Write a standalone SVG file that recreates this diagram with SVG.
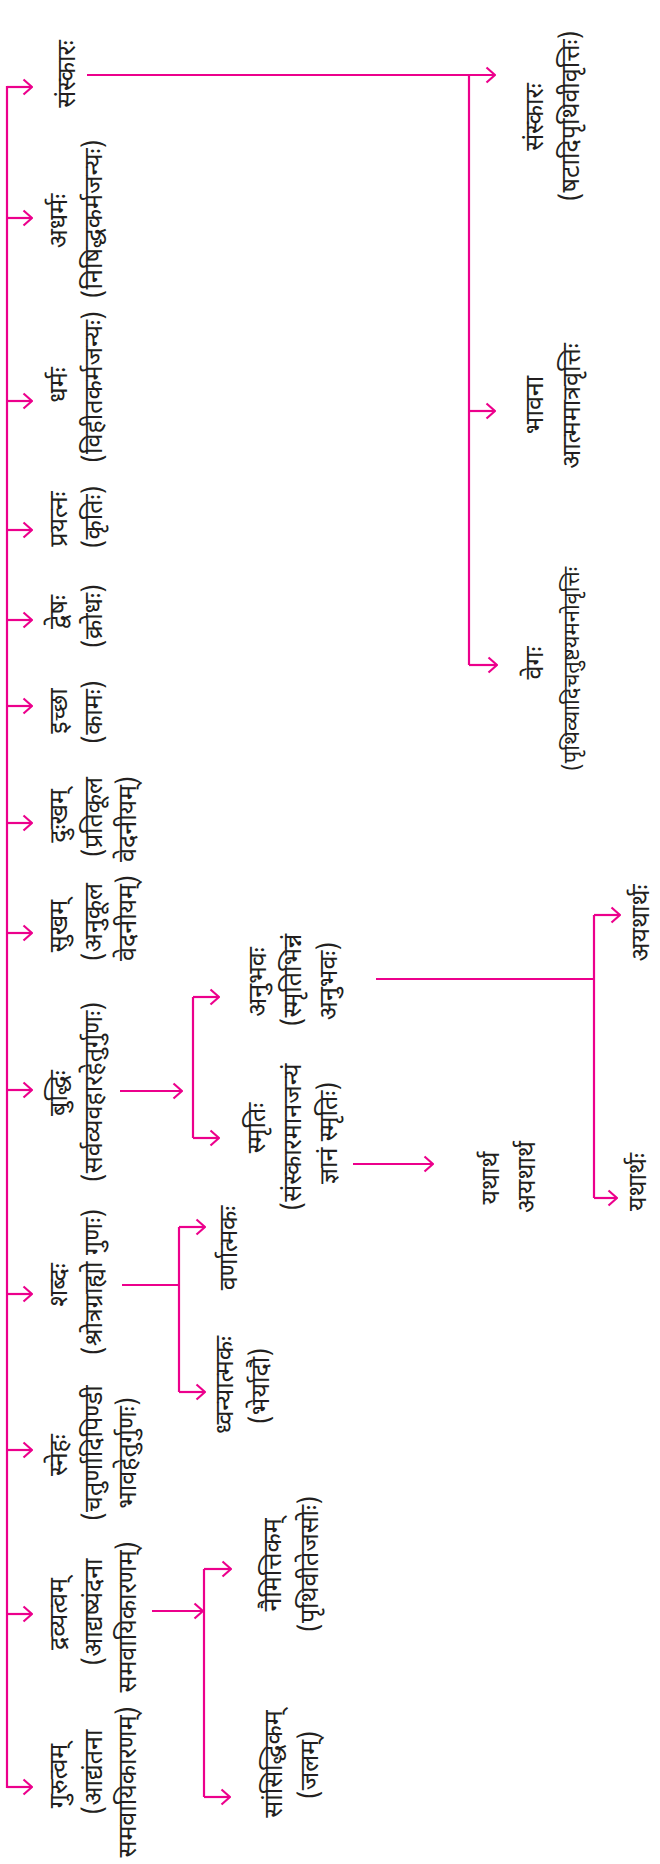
<svg xmlns="http://www.w3.org/2000/svg" width="660" height="1864" viewBox="0 0 660 1864">
<style>
text{font-family:"Noto Sans Devanagari","Noto Sans","Lohit Devanagari",sans-serif;font-size:25px;fill:#231f20;text-anchor:middle}
.c line,.c path{stroke:#ec008c;stroke-width:2.2;fill:none}
</style>
<defs>
<marker id="ah" viewBox="0 0 11 18" markerWidth="11" markerHeight="18" refX="10" refY="9" orient="auto" markerUnits="userSpaceOnUse">
<path d="M1.5,1.5 L10,9 L1.5,16.5" fill="none" stroke="#ec008c" stroke-width="2.2"/>
</marker>
</defs>
<rect width="660" height="1864" fill="#fff"/>
<g class="c" id="connectors">
<line x1="7" y1="86" x2="7" y2="1788"/>
<line x1="7" y1="87" x2="32" y2="87" marker-end="url(#ah)"/>
<line x1="7" y1="218" x2="32" y2="218" marker-end="url(#ah)"/>
<line x1="7" y1="401" x2="32" y2="401" marker-end="url(#ah)"/>
<line x1="7" y1="530" x2="32" y2="530" marker-end="url(#ah)"/>
<line x1="7" y1="620" x2="32" y2="620" marker-end="url(#ah)"/>
<line x1="7" y1="706" x2="32" y2="706" marker-end="url(#ah)"/>
<line x1="7" y1="823" x2="32" y2="823" marker-end="url(#ah)"/>
<line x1="7" y1="933" x2="32" y2="933" marker-end="url(#ah)"/>
<line x1="7" y1="1090" x2="32" y2="1090" marker-end="url(#ah)"/>
<line x1="7" y1="1294" x2="32" y2="1294" marker-end="url(#ah)"/>
<line x1="7" y1="1450" x2="32" y2="1450" marker-end="url(#ah)"/>
<line x1="7" y1="1614" x2="32" y2="1614" marker-end="url(#ah)"/>
<line x1="7" y1="1787" x2="32" y2="1787" marker-end="url(#ah)"/>
<line x1="87" y1="75" x2="495" y2="75" marker-end="url(#ah)"/>
<line x1="469" y1="75" x2="469" y2="665"/>
<line x1="469" y1="411" x2="495" y2="411" marker-end="url(#ah)"/>
<line x1="469" y1="665" x2="497" y2="665" marker-end="url(#ah)"/>
<line x1="120" y1="1091" x2="182" y2="1091" marker-end="url(#ah)"/>
<line x1="193" y1="997" x2="193" y2="1138"/>
<line x1="193" y1="997" x2="219" y2="997" marker-end="url(#ah)"/>
<line x1="193" y1="1138" x2="219" y2="1138" marker-end="url(#ah)"/>
<line x1="122" y1="1285" x2="179" y2="1285"/>
<line x1="179" y1="1227" x2="179" y2="1392"/>
<line x1="179" y1="1227" x2="205" y2="1227" marker-end="url(#ah)"/>
<line x1="179" y1="1392" x2="205" y2="1392" marker-end="url(#ah)"/>
<line x1="152" y1="1611" x2="203" y2="1611" marker-end="url(#ah)"/>
<line x1="204" y1="1569" x2="204" y2="1797"/>
<line x1="204" y1="1569" x2="231" y2="1569" marker-end="url(#ah)"/>
<line x1="204" y1="1797" x2="230" y2="1797" marker-end="url(#ah)"/>
<line x1="353" y1="1164" x2="433" y2="1164" marker-end="url(#ah)"/>
<line x1="376" y1="979" x2="594" y2="979"/>
<line x1="594" y1="915" x2="594" y2="1198"/>
<line x1="594" y1="915" x2="620" y2="915" marker-end="url(#ah)"/>
<line x1="594" y1="1198" x2="617" y2="1198" marker-end="url(#ah)"/>
</g>
<g id="n-samskara"><text transform="translate(75,74) rotate(-90)">संस्कारः</text></g>
<g id="n-adharma"><text transform="translate(67,221) rotate(-90)">अधर्मः</text><text transform="translate(102,219) rotate(-90)">(निषिद्धकर्मजन्यः)</text></g>
<g id="n-dharma"><text transform="translate(67,385) rotate(-90)">धर्मः</text><text transform="translate(102,387) rotate(-90)">(विहीतकर्मजन्यः)</text></g>
<g id="n-prayatna"><text transform="translate(67,519) rotate(-90)">प्रयत्नः</text><text transform="translate(102,517) rotate(-90)">(कृतिः)</text></g>
<g id="n-dvesha"><text transform="translate(67,612) rotate(-90)">द्वेषः</text><text transform="translate(102,616) rotate(-90)">(क्रोधः)</text></g>
<g id="n-iccha"><text transform="translate(67,711) rotate(-90)">इच्छा</text><text transform="translate(102,712) rotate(-90)">(कामः)</text></g>
<g id="n-duhkha"><text transform="translate(67,816) rotate(-90)">दुःखम्</text><text transform="translate(102,817) rotate(-90)">(प्रतिकूल</text><text transform="translate(136,819) rotate(-90)">वेदनीयम्)</text></g>
<g id="n-sukha"><text transform="translate(67,926) rotate(-90)">सुखम्</text><text transform="translate(102,922) rotate(-90)">(अनुकूल</text><text transform="translate(136,918) rotate(-90)">वेदनीयम्)</text></g>
<g id="n-buddhi"><text transform="translate(67,1093) rotate(-90)">बुद्धिः</text><text transform="translate(102,1092) rotate(-90)">(सर्वव्यवहारहेतुर्गुणः)</text></g>
<g id="n-shabda"><text transform="translate(67,1285) rotate(-90)">शब्दः</text><text transform="translate(102,1282) rotate(-90)">(श्रोत्रग्राह्यो गुणः)</text></g>
<g id="n-sneha"><text transform="translate(67,1455) rotate(-90)">स्नेहः</text><text transform="translate(102,1453) rotate(-90)">(चतुर्णादिपिण्डी</text><text transform="translate(136,1453) rotate(-90)">भावहेतुर्गुणः)</text></g>
<g id="n-dravatva"><text transform="translate(67,1614) rotate(-90)">द्रव्यत्वम्</text><text transform="translate(102,1612) rotate(-90)">(आद्यष्यंदना</text><text transform="translate(136,1617) rotate(-90)">समवायिकारणम्)</text></g>
<g id="n-gurutva"><text transform="translate(67,1776) rotate(-90)">गुरुत्वम्</text><text transform="translate(102,1772) rotate(-90)">(आद्यंतना</text><text transform="translate(136,1782) rotate(-90)">समवायिकारणम्)</text></g>
<g id="n-samskara2"><text transform="translate(543,117) rotate(-90)">संस्कारः</text><text transform="translate(579,116) rotate(-90)">(षटादिपृथिवीवृत्तिः)</text></g>
<g id="n-bhavana"><text transform="translate(543,405) rotate(-90)">भावना</text><text transform="translate(580,406) rotate(-90)">आत्ममात्रवृत्तिः</text></g>
<g id="n-vega"><text transform="translate(543,663) rotate(-90)">वेगः</text><text transform="translate(579,771) rotate(-90)" style="text-anchor:start;font-size:22px">(पृथिव्यादिचतुष्टयमनोवृत्तिः</text></g>
<g id="n-varnatmaka"><text transform="translate(237,1248) rotate(-90)">वर्णात्मकः</text></g>
<g id="n-dhvanyatmaka"><text transform="translate(233,1385) rotate(-90)">ध्वन्यात्मकः</text><text transform="translate(269,1386) rotate(-90)">(भेर्यादौ)</text></g>
<g id="n-anubhava"><text transform="translate(266,982) rotate(-90)">अनुभवः</text><text transform="translate(301,980) rotate(-90)">(स्मृतिभिन्नं</text><text transform="translate(337,981) rotate(-90)">अनुभवः)</text></g>
<g id="n-smriti"><text transform="translate(265,1128) rotate(-90)">स्मृतिः</text><text transform="translate(301,1137) rotate(-90)">(संस्कारमानजन्यं</text><text transform="translate(337,1133) rotate(-90)">ज्ञानं स्मृतिः)</text></g>
<g id="n-yatha-ayatha"><text transform="translate(499,1178) rotate(-90)">यथार्थ</text><text transform="translate(535,1177) rotate(-90)">अयथार्थ</text></g>
<g id="n-ayathartha"><text transform="translate(649,923) rotate(-90)">अयथार्थः</text></g>
<g id="n-yathartha"><text transform="translate(646,1182) rotate(-90)">यथार्थः</text></g>
<g id="n-naimittika"><text transform="translate(281,1565) rotate(-90)">नैमित्तिकम्</text><text transform="translate(318,1564) rotate(-90)">(पृथिवीतेजसोः)</text></g>
<g id="n-samsiddhika"><text transform="translate(282,1764) rotate(-90)">सांसिद्धिकम्</text><text transform="translate(318,1765) rotate(-90)">(जलम्)</text></g>
</svg>
